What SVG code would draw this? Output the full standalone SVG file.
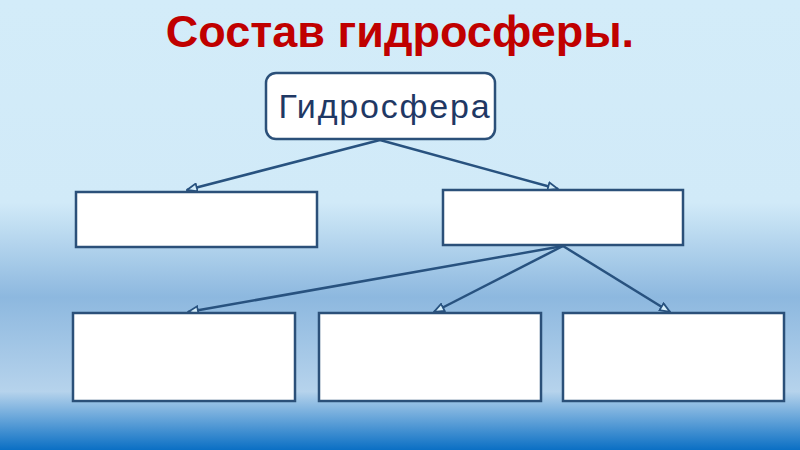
<svg xmlns="http://www.w3.org/2000/svg" width="800" height="450" viewBox="0 0 800 450">
<defs>
<linearGradient id="bg" x1="0" y1="0" x2="0" y2="450" gradientUnits="userSpaceOnUse">
<stop offset="0" stop-color="#d3ecf9"/>
<stop offset="0.45" stop-color="#d1eaf8"/>
<stop offset="0.66" stop-color="#8db8df"/>
<stop offset="0.87" stop-color="#b6d3ec"/>
<stop offset="1" stop-color="#0a6fc4"/>
</linearGradient>
<marker id="arr" viewBox="0 0 12 10" refX="11" refY="5" markerWidth="12" markerHeight="10" markerUnits="userSpaceOnUse" orient="auto">
<path d="M1,1 L11,5 L1,9 Z" fill="#d3ecf9" stroke="#28527f" stroke-width="1.8"/>
</marker>
</defs>
<style>
.box{fill:#ffffff;stroke:#2b5079;stroke-width:2.5}
.conn{stroke:#28527f;stroke-width:2.5;fill:none}
.title{font-family:"Liberation Sans",Arial,sans-serif;font-weight:bold;font-size:45px;fill:#c00000}
.lbl{font-family:"Liberation Sans",Arial,sans-serif;font-size:34px;letter-spacing:1.8px;fill:#1f3864}
</style>
<rect x="0" y="0" width="800" height="450" fill="url(#bg)"/>
<text class="title" x="400" y="47" text-anchor="middle">Состав гидросферы.</text>
<g id="connectors">
<line class="conn" x1="380" y1="140" x2="187" y2="190" marker-end="url(#arr)"/>
<line class="conn" x1="380" y1="140" x2="558" y2="189" marker-end="url(#arr)"/>
<line class="conn" x1="563" y1="246" x2="188" y2="312" marker-end="url(#arr)"/>
<line class="conn" x1="563" y1="246" x2="434" y2="312" marker-end="url(#arr)"/>
<line class="conn" x1="563" y1="246" x2="670" y2="312" marker-end="url(#arr)"/>
</g>
<g id="root">
<rect class="box" x="266" y="73" width="229" height="66" rx="10"/>
<text class="lbl" x="385" y="118" text-anchor="middle">Гидросфера</text>
</g>
<g id="box-l1"><rect class="box" x="76" y="192" width="241" height="55"/></g>
<g id="box-r1"><rect class="box" x="443" y="190" width="240" height="55"/></g>
<g id="box-b1"><rect class="box" x="73" y="313" width="222" height="88"/></g>
<g id="box-b2"><rect class="box" x="319" y="313" width="222" height="88"/></g>
<g id="box-b3"><rect class="box" x="563" y="313" width="221" height="88"/></g>
</svg>
